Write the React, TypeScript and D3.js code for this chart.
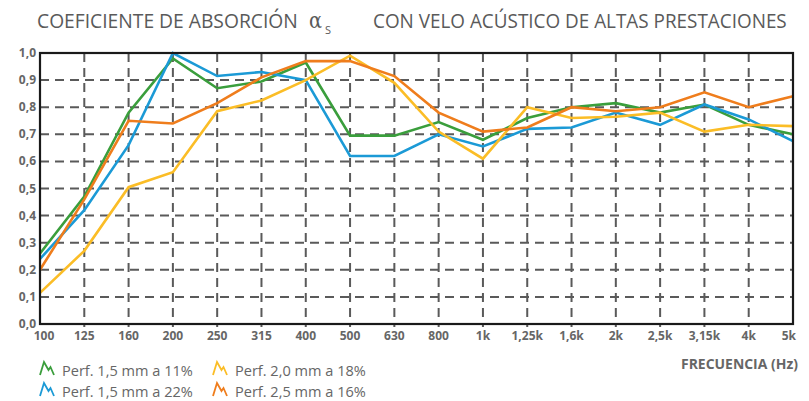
import React, { useLayoutEffect, useRef } from "react";
import * as d3 from "d3";

const freqs = ["100","125","160","200","250","315","400","500","630","800","1k","1,25k","1,6k","2k","2,5k","3,15k","4k","5k"];
const yTicks = [0,0.1,0.2,0.3,0.4,0.5,0.6,0.7,0.8,0.9,1.0];

const perf15_11 = [0.26,0.47,0.78,0.98,0.87,0.895,0.965,0.695,0.695,0.745,0.68,0.76,0.80,0.815,0.78,0.81,0.735,0.70];
const perf15_22 = [0.24,0.42,0.66,1.0,0.915,0.93,0.90,0.62,0.62,0.70,0.655,0.72,0.725,0.78,0.735,0.81,0.755,0.675];
const perf20_18 = [0.115,0.27,0.505,0.56,0.785,0.825,0.90,0.99,0.89,0.71,0.61,0.80,0.76,0.765,0.78,0.71,0.735,0.73];
const perf25_16 = [0.20,0.46,0.75,0.74,0.815,0.91,0.97,0.97,0.915,0.78,0.71,0.725,0.80,0.785,0.80,0.855,0.80,0.84];

const seriesNames = ["Perf. 1,5 mm a 11%","Perf. 1,5 mm a 22%","Perf. 2,0 mm a 18%","Perf. 2,5 mm a 16%"];
const seriesColors = ["#3a9e3c","#1b9ad6","#fbbd26","#ef7d1c"];

function FitText(props: { x: number; y: number; width: number; anchor?: "start" | "end"; children: string; [k: string]: any }) {
  const { x, y, width, anchor, children, ...rest } = props;
  const ref = useRef<SVGTextElement>(null);
  useLayoutEffect(() => {
    const el = ref.current;
    if (!el) return;
    const w = el.getComputedTextLength();
    const s = w > 0 ? width / w : 1;
    const x0 = anchor === "end" ? x - width : x;
    el.setAttribute("transform", `translate(${x0},${y}) scale(${s},1)`);
  }, [x, y, width, anchor, children]);
  return (
    <text ref={ref} x={0} y={0} transform={`translate(${x},${y})`} {...rest}>
      {children}
    </text>
  );
}

export default function App() {
  const W = 809, H = 401;
  const left = 40, right = 793, top = 53, bottom = 324;
  const x = d3.scalePoint<string>().domain(freqs).range([left, right]);
  const y = d3.scaleLinear().domain([0, 1]).range([bottom, top]);
  const series = [perf15_11, perf15_22, perf20_18, perf25_16];
  const line = d3.line<number>().x((_, i) => x(freqs[i]) as number).y((d) => y(d));
  const tickFont = "'Open Sans', 'DejaVu Sans', sans-serif";
  const gray = "#666";
  const gridColor = "#5a5a5a";
  const icon = "M0,13 L4,0 L8.5,8 L10.5,5 L14,13";
  const legendPos = [
    { x: 40, y: 362 },
    { x: 40, y: 383 },
    { x: 213, y: 362 },
    { x: 213, y: 383 },
  ];
  return (
    <svg width={W} height={H} style={{ position: "absolute", left: 0, top: 0, background: "#fff" }}>
      <rect x={0} y={0} width={W} height={H} fill="#fff" />
      {/* title */}
      <g fill="#5a5a5a" fontFamily="'Open Sans', 'DejaVu Sans', sans-serif" fontSize={20.5}>
        <FitText x={37} y={28} width={261}>COEFICIENTE DE ABSORCIÓN</FitText>
        <FitText x={309} y={28} width={13} fontSize={22} fontFamily="'DejaVu Serif', serif">α</FitText>
        <text x={325} y={34} fontSize={11}>S</text>
        <FitText x={373} y={28} width={414}>CON VELO ACÚSTICO DE ALTAS PRESTACIONES</FitText>
      </g>
      {/* horizontal grid */}
      {yTicks.filter((t) => t > 0 && t < 1).map((t) => (
        <line key={"h" + t} x1={left} x2={right} y1={y(t)} y2={y(t)} stroke={gridColor} strokeWidth={2} strokeDasharray="9,6" />
      ))}
      {/* vertical grid */}
      {freqs.slice(1, -1).map((f) => (
        <line key={"v" + f} x1={x(f)} x2={x(f)} y1={top} y2={bottom + 3} stroke={gridColor} strokeWidth={2} strokeDasharray="9,6" />
      ))}
      {/* series */}
      {series.map((s, i) => (
        <path key={i} d={line(s) || ""} fill="none" stroke={seriesColors[i]} strokeWidth={2.6} strokeLinejoin="miter" />
      ))}
      {/* frame */}
      <rect x={left} y={top} width={right - left} height={bottom - top} fill="none" stroke="#1a1a1a" strokeWidth={2.2} />
      {/* y ticks */}
      {yTicks.map((t) => (
        <text key={"y" + t} x={36} y={y(t) + 4} textAnchor="end" fontFamily={tickFont} fontWeight="bold" fontSize={12} fill={gray}>
          {t.toFixed(1).replace(".", ",")}
        </text>
      ))}
      {/* x ticks */}
      {freqs.map((f, i) => {
        const last = i === freqs.length - 1;
        const first = i === 0;
        const px = (x(f) as number) + (first ? 4 : 0) + (last ? 3 : 0);
        return (
          <text key={"x" + f} x={px} y={340} textAnchor={last ? "end" : "middle"} fontFamily={tickFont} fontWeight="bold" fontSize={12} fill={gray}>
            {f}
          </text>
        );
      })}
      <FitText x={798} y={369} width={117} anchor="end" fontFamily={tickFont} fontWeight="bold" fontSize={13.5} fill={gray}>
        FRECUENCIA (Hz)
      </FitText>
      {/* legend */}
      {seriesNames.map((n, i) => (
        <g key={n} transform={`translate(${legendPos[i].x},${legendPos[i].y})`}>
          <path d={icon} fill="none" stroke={seriesColors[i]} strokeWidth={1.8} />
          <FitText x={22} y={14} width={131} fontFamily="'Open Sans', sans-serif" fontSize={15} fill="#666">
            {n}
          </FitText>
        </g>
      ))}
    </svg>
  );
}
